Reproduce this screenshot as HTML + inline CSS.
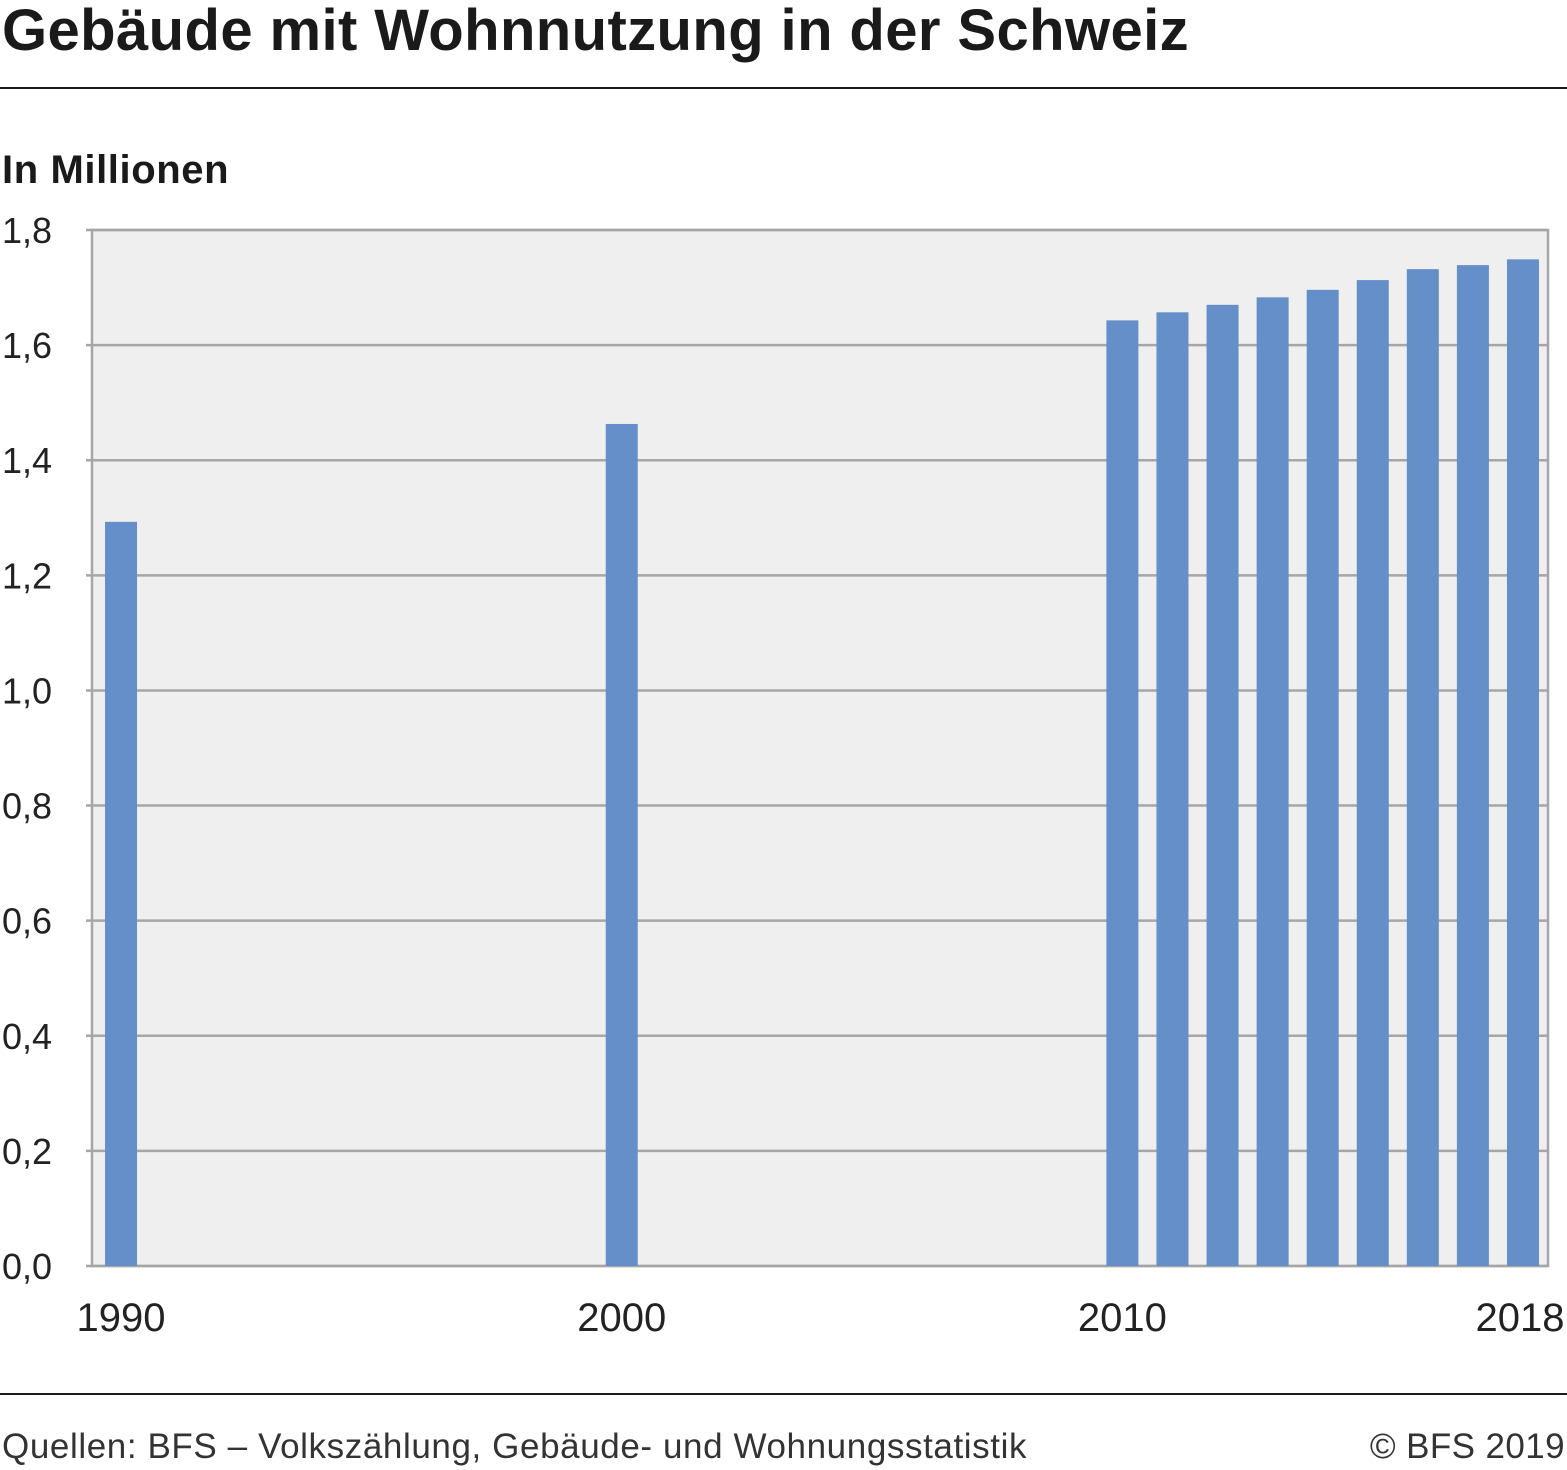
<!DOCTYPE html>
<html><head><meta charset="utf-8"><style>
html,body{margin:0;padding:0;background:#fff;}
body{width:1567px;height:1470px;position:relative;overflow:hidden;font-family:"Liberation Sans",sans-serif;color:#1a1a1a;}
.abs{position:absolute;}
</style></head><body>
<div class="abs" style="left:2px;top:-2px;font-size:58px;font-weight:bold;line-height:66px;letter-spacing:0.4px;">Gebäude mit Wohnnutzung in der Schweiz</div>
<div class="abs" style="left:0;top:87px;width:1567px;height:2px;background:#1a1a1a;"></div>
<div class="abs" style="left:2px;top:147px;font-size:40px;font-weight:bold;line-height:46px;letter-spacing:0.6px;">In Millionen</div>
<svg class="abs" style="left:0;top:0" width="1567" height="1470" id="chart"></svg>
<div class="abs" style="left:0;top:1393px;width:1567px;height:2px;background:#1a1a1a;"></div>
<div class="abs" style="left:2px;top:1427px;font-size:35px;line-height:40px;color:#333;letter-spacing:0.6px;">Quellen: BFS – Volkszählung, Gebäude- und Wohnungsstatistik</div>
<div class="abs" style="right:2px;top:1427px;font-size:35px;line-height:40px;color:#333;letter-spacing:0.4px;">© BFS 2019</div>
<script>
const years=[1990,2000,2010,2011,2012,2013,2014,2015,2016,2017,2018];
const values=[1.293,1.463,1.643,1.657,1.670,1.683,1.696,1.713,1.732,1.739,1.749];
const yTicks=[0,0.2,0.4,0.6,0.8,1.0,1.2,1.4,1.6,1.8];
const xLabels=[1990,2000,2010,2018];
const NS="http://www.w3.org/2000/svg";
const svg=document.getElementById('chart');
const L=92,R=1548,T=230,B=1266,yMin=0,yMax=1.8,x0=1990,x1=2018;
const slot=(R-L-4)/(x1-x0+1);
const xc=y=>L+4+(y-x0+0.5)*slot;
const ys=v=>B-(v-yMin)/(yMax-yMin)*(B-T);
function mk(t,a){const e=document.createElementNS(NS,t);for(const k in a)e.setAttribute(k,a[k]);svg.appendChild(e);return e;}
const bg=mk('rect',{x:L,y:T,width:R-L,height:B-T,fill:'#efefef'});


yTicks.forEach(t=>{
  const y=ys(t);
  const g=mk('line',{x1:L-6,x2:R,y1:y,y2:y,stroke:'#a6a6a6','stroke-width':2.5});
  
  
  const tx=mk('text',{x:2,y:y+13,'font-size':36,fill:'#222','font-family':'Liberation Sans, sans-serif'});
  tx.textContent=t.toFixed(1).replace('.',',');
  
  
});
const fr=mk('rect',{x:L,y:T,width:R-L,height:B-T,fill:'none',stroke:'#a6a6a6','stroke-width':2.5});


years.forEach((yr,i)=>{
  const b=mk('rect',{x:xc(yr)-16,y:ys(values[i]),width:32,height:B-ys(values[i]),fill:'#648fc8'});
  
  
});
xLabels.forEach(yr=>{
  const tx=mk('text',{x:Math.min(xc(yr),1520),y:1331,'font-size':40,fill:'#222','text-anchor':'middle','font-family':'Liberation Sans, sans-serif'});
  tx.textContent=yr;
  
  
});
</script>
</body></html>
